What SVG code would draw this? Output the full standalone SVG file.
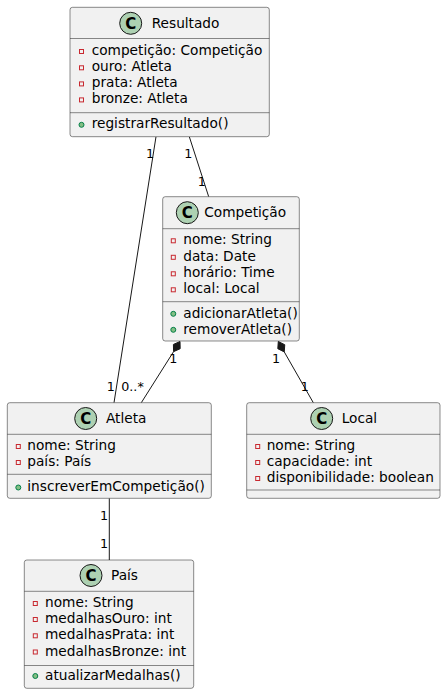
<svg xmlns="http://www.w3.org/2000/svg" width="446" height="694" viewBox="0 0 446 694">
<style>
.box{fill:#F1F1F1;stroke:#181818;stroke-width:0.5}
.sep{stroke:#181818;stroke-width:0.5}
.cc{fill:#ADD1B2;stroke:#181818;stroke-width:1}
.cl{font-family:"DejaVu Sans Bold","DejaVu Sans",sans-serif;font-weight:bold;font-size:15px;fill:#000;text-anchor:middle}
.t{font-family:"DejaVu Sans",sans-serif;font-size:13.7px;fill:#000}
.priv{fill:none;stroke:#C82930;stroke-width:1}
.pub{fill:#84BE84;stroke:#038048;stroke-width:1}
.lk{stroke:#181818;stroke-width:1;fill:none}
.dm{fill:#181818;stroke:#181818;stroke-width:1}
.lb{font-family:"DejaVu Sans",sans-serif;font-size:12.7px;fill:#000;text-anchor:middle}
</style>

<g id="connectors">
  <line class="lk" x1="156" y1="136.7" x2="114" y2="402.7"/>
  <line class="lk" x1="189.3" y1="136.7" x2="208.7" y2="196.7"/>
  <polygon class="dm" points="180,341.5 180.17,348.71 173.59,351.64 173.41,344.43"/>
  <line class="lk" x1="173.59" y1="351.64" x2="141.3" y2="402.7"/>
  <polygon class="dm" points="278.3,341.5 284.75,344.72 284.26,351.92 277.81,348.70"/>
  <line class="lk" x1="284.26" y1="351.92" x2="313.3" y2="402.7"/>
  <line class="lk" x1="109.3" y1="498.3" x2="109.3" y2="560"/>
  <text class="lb" x="150" y="157.5">1</text>
  <text class="lb" x="188.3" y="157.5">1</text>
  <text class="lb" x="201.7" y="185.5">1</text>
  <text class="lb" x="110.7" y="391.3">1</text>
  <text class="lb" x="132.5" y="391.3">0..*</text>
  <text class="lb" x="173.3" y="363">1</text>
  <text class="lb" x="276" y="363">1</text>
  <text class="lb" x="304.7" y="391.3">1</text>
  <text class="lb" x="104" y="519.7">1</text>
  <text class="lb" x="104" y="548">1</text>
</g>

<g id="Resultado">
  <rect class="box" x="70" y="7.3" width="199.3" height="129.4" rx="2.5" ry="2.5"/>
  <circle class="cc" cx="130.7" cy="23.3" r="11"/>
  <text class="cl" x="130.7" y="28.6">C</text>
  <text class="t" x="151.7" y="28">Resultado</text>
  <line class="sep" x1="70" y1="38.5" x2="269.3" y2="38.5"/>
  <rect class="priv" x="79.5" y="49.5" width="4" height="4"/>
  <text class="t" x="91.7" y="55">competição: Competição</text>
  <rect class="priv" x="79.5" y="65.8" width="4" height="4"/>
  <text class="t" x="91.7" y="71.3">ouro: Atleta</text>
  <rect class="priv" x="79.5" y="81.9" width="4" height="4"/>
  <text class="t" x="91.7" y="87.4">prata: Atleta</text>
  <rect class="priv" x="79.5" y="97.9" width="4" height="4"/>
  <text class="t" x="91.7" y="103.4">bronze: Atleta</text>
  <line class="sep" x1="70" y1="112.7" x2="269.3" y2="112.7"/>
  <circle class="pub" cx="81.5" cy="124.8" r="2.5"/>
  <text class="t" x="91.7" y="128.3">registrarResultado()</text>
</g>

<g id="Competicao">
  <rect class="box" x="162.7" y="196.7" width="136.6" height="144.3" rx="2.5" ry="2.5"/>
  <circle class="cc" cx="187.3" cy="212.7" r="11"/>
  <text class="cl" x="187.3" y="218">C</text>
  <text class="t" x="204.3" y="217.4">Competição</text>
  <line class="sep" x1="162.7" y1="228.7" x2="299.3" y2="228.7"/>
  <rect class="priv" x="171.3" y="238.8" width="4" height="4"/>
  <text class="t" x="183.3" y="244.3">nome: String</text>
  <rect class="priv" x="171.3" y="255.3" width="4" height="4"/>
  <text class="t" x="183.3" y="260.8">data: Date</text>
  <rect class="priv" x="171.3" y="271.8" width="4" height="4"/>
  <text class="t" x="183.3" y="277.3">horário: Time</text>
  <rect class="priv" x="171.3" y="287.8" width="4" height="4"/>
  <text class="t" x="183.3" y="293.3">local: Local</text>
  <line class="sep" x1="162.7" y1="301.7" x2="299.3" y2="301.7"/>
  <circle class="pub" cx="173.3" cy="313.8" r="2.5"/>
  <text class="t" x="183.3" y="317.5">adicionarAtleta()</text>
  <circle class="pub" cx="173.3" cy="329.8" r="2.5"/>
  <text class="t" x="183.3" y="333.5">removerAtleta()</text>
</g>

<g id="Atleta">
  <rect class="box" x="7.3" y="402.7" width="204" height="95.6" rx="2.5" ry="2.5"/>
  <circle class="cc" cx="85.7" cy="418.5" r="11"/>
  <text class="cl" x="85.7" y="423.8">C</text>
  <text class="t" x="106" y="423.2">Atleta</text>
  <line class="sep" x1="7.3" y1="434.3" x2="211.3" y2="434.3"/>
  <rect class="priv" x="16.3" y="444.5" width="4" height="4"/>
  <text class="t" x="27.3" y="450">nome: String</text>
  <rect class="priv" x="16.3" y="460.5" width="4" height="4"/>
  <text class="t" x="27.3" y="466">país: País</text>
  <line class="sep" x1="7.3" y1="474.3" x2="211.3" y2="474.3"/>
  <circle class="pub" cx="18.3" cy="487.5" r="2.5"/>
  <text class="t" x="27.3" y="491.2">inscreverEmCompetição()</text>
</g>

<g id="Local">
  <rect class="box" x="246.7" y="402.7" width="193.3" height="95.6" rx="2.5" ry="2.5"/>
  <circle class="cc" cx="321.7" cy="418.5" r="11"/>
  <text class="cl" x="321.7" y="423.8">C</text>
  <text class="t" x="341.7" y="423.2">Local</text>
  <line class="sep" x1="246.7" y1="434.3" x2="440" y2="434.3"/>
  <rect class="priv" x="255.7" y="444.5" width="4" height="4"/>
  <text class="t" x="266.7" y="450">nome: String</text>
  <rect class="priv" x="255.7" y="460.5" width="4" height="4"/>
  <text class="t" x="266.7" y="466">capacidade: int</text>
  <rect class="priv" x="255.7" y="476.5" width="4" height="4"/>
  <text class="t" x="266.7" y="482">disponibilidade: boolean</text>
  <line class="sep" x1="246.7" y1="490" x2="440" y2="490"/>
</g>

<g id="Pais">
  <rect class="box" x="24.3" y="560" width="169.4" height="128.3" rx="2.5" ry="2.5"/>
  <circle class="cc" cx="91" cy="575.5" r="11"/>
  <text class="cl" x="91" y="580.8">C</text>
  <text class="t" x="111" y="580.2">País</text>
  <line class="sep" x1="24.3" y1="591.3" x2="193.7" y2="591.3"/>
  <rect class="priv" x="33.3" y="601.5" width="4" height="4"/>
  <text class="t" x="45" y="607">nome: String</text>
  <rect class="priv" x="33.3" y="617.5" width="4" height="4"/>
  <text class="t" x="45" y="623">medalhasOuro: int</text>
  <rect class="priv" x="33.3" y="633.8" width="4" height="4"/>
  <text class="t" x="45" y="639.3">medalhasPrata: int</text>
  <rect class="priv" x="33.3" y="650" width="4" height="4"/>
  <text class="t" x="45" y="655.5">medalhasBronze: int</text>
  <line class="sep" x1="24.3" y1="665.5" x2="193.7" y2="665.5"/>
  <circle class="pub" cx="35.3" cy="676" r="2.5"/>
  <text class="t" x="45" y="679.5">atualizarMedalhas()</text>
</g>
</svg>
